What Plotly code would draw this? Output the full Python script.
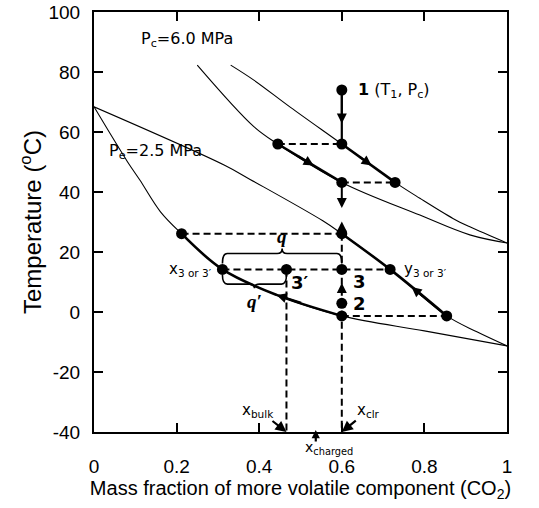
import plotly.graph_objects as go

# ---------------- data (mass fraction of CO2, temperature in deg C) ----------------
# condensing pressure Pc = 6.0 MPa
pc_bubble_x = [0.250, 0.387, 0.445, 0.600, 0.789, 0.910, 1.000]
pc_bubble_T = [82.3, 61.8, 56.0, 43.2, 32.3, 25.7, 23.0]
pc_dew_x = [0.331, 0.387, 0.475, 0.600, 0.729, 0.789, 0.869, 0.910, 1.000]
pc_dew_T = [82.3, 77.3, 68.3, 56.0, 43.2, 37.9, 31.2, 28.4, 23.0]
# evaporating pressure Pe = 2.5 MPa
pe_bubble_x = [0.000, 0.081, 0.111, 0.161, 0.212, 0.311, 0.442, 0.600, 0.800, 1.000]
pe_bubble_T = [68.4, 50.1, 44.0, 33.4, 26.1, 14.2, 5.7, -1.3, -6.3, -11.3]
pe_dew_x = [0.000, 0.315, 0.378, 0.554, 0.600, 0.717, 0.854, 0.927, 1.000]
pe_dew_T = [68.4, 49.0, 44.2, 30.4, 26.1, 14.2, -1.3, -6.6, -11.3]

# compositions
x_clr = 0.600
x_bulk = 0.466
x_charged = 0.537
x_liq_c = 0.445   # liquid in equilibrium with x_clr at Pc
y_vap_c = 0.729   # vapour in equilibrium with x_clr at Pc
x_liq_e = 0.212
x_3 = 0.311
y_3 = 0.717
y_vap_e = 0.854
# temperatures
T_1 = 74.0
T_c_dew = 56.0
T_c_bub = 43.2
T_e_dew = 26.1
T_3 = 14.2
T_2 = 2.9
T_e_bub = -1.3

state_x = [x_clr, x_liq_c, x_clr, x_clr, y_vap_c, x_liq_e, x_clr, x_3, x_bulk, x_clr, y_3, x_clr, x_clr, y_vap_e]
state_T = [T_1, T_c_dew, T_c_dew, T_c_bub, T_c_bub, T_e_dew, T_e_dew, T_3, T_3, T_3, T_3, T_2, T_e_bub, T_e_bub]

x_tick_vals = [0, 0.2, 0.4, 0.6, 0.8, 1]
x_tick_text = ["0", "0.2", "0.4", "0.6", "0.8", "1"]
y_tick_vals = [-40, -20, 0, 20, 40, 60, 80, 100]
y_tick_text = ["-40", "-20", "0", "20", "40", "60", "80", "100"]
T_min, T_max = -40, 100

# ---------------- styles ----------------
BLACK = "black"
THIN = 1.1
BOLD = 2.6
DASH = dict(color=BLACK, width=2.0, dash="7px,4px")
AX_FONT = "Liberation Sans, Arial, sans-serif"
IN_FONT = "DejaVu Sans, Verdana, sans-serif"

fig = go.Figure()


def curve(xs, ts, width):
    fig.add_trace(go.Scatter(x=xs, y=ts, mode="lines",
                             line=dict(color=BLACK, width=width, shape="spline"),
                             hoverinfo="skip"))


def sub(xs, ts, a, b):
    pts = [(x, t) for x, t in zip(xs, ts) if a - 1e-9 <= x <= b + 1e-9]
    return [p[0] for p in pts], [p[1] for p in pts]


# thin saturation curves
for xs, ts in [(pc_bubble_x, pc_bubble_T), (pc_dew_x, pc_dew_T),
               (pe_bubble_x, pe_bubble_T), (pe_dew_x, pe_dew_T)]:
    curve(xs, ts, THIN)

# bold process segments along the curves
curve(*sub(pc_bubble_x, pc_bubble_T, x_liq_c, x_clr), BOLD)
curve(*sub(pc_dew_x, pc_dew_T, x_clr, y_vap_c), BOLD)
curve(*sub(pe_bubble_x, pe_bubble_T, x_liq_e, x_clr), BOLD)
curve(*sub(pe_dew_x, pe_dew_T, x_clr, y_vap_e), BOLD)


def dashed(xs, ts):
    fig.add_trace(go.Scatter(x=xs, y=ts, mode="lines", line=DASH, hoverinfo="skip"))


# tie lines
dashed([x_liq_c, x_clr], [T_c_dew, T_c_dew])
dashed([x_clr, y_vap_c], [T_c_bub, T_c_bub])
dashed([x_liq_e, x_clr], [T_e_dew, T_e_dew])
dashed([x_3, y_3], [T_3, T_3])
dashed([x_clr, y_vap_e], [T_e_bub, T_e_bub])
# vertical composition lines
dashed([x_clr, x_clr], [T_e_dew, T_min])
dashed([x_bulk, x_bulk], [T_3, T_min])

# solid vertical from state 1
fig.add_trace(go.Scatter(x=[x_clr, x_clr], y=[T_1, T_c_dew], mode="lines",
                         line=dict(color=BLACK, width=2.2), hoverinfo="skip"))

# state points
fig.add_trace(go.Scatter(x=state_x, y=state_T, mode="markers",
                         marker=dict(color=BLACK, size=11), hoverinfo="skip"))

# ---------------- arrows ----------------
def arrow(x0, t0, x1, t1, width=2.0, size=1.0):
    fig.add_annotation(x=x1, y=t1, ax=x0, ay=t0, xref="x", yref="y", axref="x", ayref="y",
                       text="", showarrow=True, arrowhead=2, arrowsize=size,
                       arrowwidth=width, arrowcolor=BLACK, standoff=0, startstandoff=0)


def frac(a, b, f):
    return a + (b - a) * f


# 1 -> condenser dew point
arrow(x_clr, T_1, x_clr, frac(T_1, T_c_dew, 0.62), 2.0)
# along condensing curves
arrow(frac(x_clr, y_vap_c, 0.3), frac(T_c_dew, T_c_bub, 0.3),
      frac(x_clr, y_vap_c, 0.56), frac(T_c_dew, T_c_bub, 0.56), 2.0)
arrow(frac(x_liq_c, x_clr, 0.3), frac(T_c_dew, T_c_bub, 0.3),
      frac(x_liq_c, x_clr, 0.56), frac(T_c_dew, T_c_bub, 0.56), 2.0)
# vertical arrows facing each other between condenser and evaporator
arrow(x_clr, T_c_bub, x_clr, frac(T_c_bub, T_e_dew, 0.5), 2.0)
arrow(x_clr, T_e_dew, x_clr, frac(T_e_dew, T_c_bub, 0.24), 2.0)
# 2 -> 3
arrow(x_clr, frac(T_2, T_3, 0.45), x_clr, frac(T_2, T_3, 0.6), 2.0)
# along evaporating curves (pointing back up)
arrow(frac(y_3, y_vap_e, 0.6), frac(T_3, T_e_bub, 0.6),
      frac(y_3, y_vap_e, 0.38), frac(T_3, T_e_bub, 0.38), 2.0)
i_b = pe_bubble_x.index(0.442)
arrow(frac(pe_bubble_x[i_b], x_clr, 0.4), frac(pe_bubble_T[i_b], T_e_bub, 0.4),
      pe_bubble_x[i_b], pe_bubble_T[i_b], 2.0)

# ---------------- braces ----------------
def brace(x0, x1, t_end, t_flat, t_tip, r=0.012):
    xm = (x0 + x1) / 2
    p = (f"M {x0},{t_end} Q {x0},{t_flat} {x0 + r},{t_flat} L {xm - r},{t_flat} "
         f"Q {xm},{t_flat} {xm},{t_tip} Q {xm},{t_flat} {xm + r},{t_flat} "
         f"L {x1 - r},{t_flat} Q {x1},{t_flat} {x1},{t_end}")
    fig.add_shape(type="path", path=p, xref="x", yref="y",
                  line=dict(color=BLACK, width=1.6))


brace(x_3, x_clr, T_3 + 2.0, T_3 + 5.3, T_3 + 7.0)
brace(x_3, x_bulk, T_3 - 1.9, T_3 - 4.9, T_3 - 6.3)

# ---------------- labels ----------------
def label(x, t, text, size=15, anchor="left", bold=False, xshift=0, yshift=0,
          family=IN_FONT, style="normal"):
    fig.add_annotation(x=x, y=t, xref="x", yref="y", text=text, showarrow=False,
                       xanchor=anchor, yanchor="middle", xshift=xshift, yshift=yshift,
                       font=dict(family=family, size=size, color=BLACK,
                                 weight="bold" if bold else "normal", style=style))


label(0.109, 91, "P<sub>c</sub>=6.0 MPa", 16)
label(0.031, 53.6, "P<sub>e</sub>=2.5 MPa", 16)
label(x_clr, T_1, "<b>1</b> (T<sub>1</sub>, P<sub>c</sub>)", 16, xshift=14)
label(x_3, T_3, "x<sub>3 or 3′</sub>", 15, anchor="right", xshift=-8)
label(y_3, T_3, "y<sub>3 or 3′</sub>", 15, xshift=12)
label(x_bulk, T_3 - 4.4, "3′", 18, bold=True, xshift=3)
label(x_clr, T_3 - 4.1, "3", 18, bold=True, xshift=9)
label(x_clr, T_2 - 0.2, "2", 18, bold=True, xshift=9)
label((x_3 + x_clr) / 2, T_3 + 11.1, "q", 19, anchor="center", bold=True,
      family="Liberation Serif, serif", style="italic")
label((x_3 + x_bulk) / 2, T_3 - 10.8, "q′", 19, anchor="center", bold=True,
      family="Liberation Serif, serif", style="italic")

# composition labels on the bottom axis
fig.add_annotation(x=x_bulk, y=T_min, xref="x", yref="y", ax=-28, ay=-22,
                   text="x<sub>bulk</sub>", showarrow=True, arrowhead=2, arrowsize=1,
                   arrowwidth=2.2, arrowcolor=BLACK, standoff=0,
                   font=dict(family=IN_FONT, size=15, color=BLACK))
fig.add_annotation(x=x_clr, y=T_min, xref="x", yref="y", ax=27, ay=-22,
                   text="x<sub>clr</sub>", showarrow=True, arrowhead=2, arrowsize=1,
                   arrowwidth=2.2, arrowcolor=BLACK, standoff=0,
                   font=dict(family=IN_FONT, size=15, color=BLACK))
fig.add_annotation(x=x_charged, y=T_min, xref="x", yref="y", ax=0, ay=13, yshift=2,
                   text="", showarrow=True, arrowhead=2, arrowsize=0.75,
                   arrowwidth=2.2, arrowcolor=BLACK, standoff=0)
fig.add_annotation(x=x_charged, y=T_min, xref="x", yref="y", text="x<sub>charged</sub>",
                   showarrow=False, xanchor="left", yanchor="top", xshift=-13, yshift=-5,
                   font=dict(family=IN_FONT, size=14, color=BLACK))

# ---------------- layout ----------------
fig.update_layout(width=539, height=508, margin=dict(l=94, r=32, t=12, b=76),
                  plot_bgcolor="white", paper_bgcolor="white", showlegend=False)
fig.update_xaxes(range=[0, 1], tickvals=x_tick_vals, ticktext=x_tick_text,
                 ticks="inside", ticklen=9, tickwidth=1.5, tickcolor=BLACK,
                 showline=True, linewidth=2, linecolor=BLACK, mirror="allticks",
                 showgrid=False, zeroline=False, ticklabelstandoff=16, automargin=False,
                 tickfont=dict(family=AX_FONT, size=19, color=BLACK),
                 title=dict(text="Mass fraction of more volatile component (CO<sub>2</sub>)",
                            font=dict(family=AX_FONT, size=20, color=BLACK), standoff=2))
fig.update_yaxes(range=[T_min, T_max], tickvals=y_tick_vals, ticktext=y_tick_text,
                 ticks="inside", ticklen=9, tickwidth=1.5, tickcolor=BLACK,
                 showline=True, linewidth=2, linecolor=BLACK, mirror="allticks",
                 showgrid=False, zeroline=False, ticklabelstandoff=8, automargin=False,
                 tickfont=dict(family=AX_FONT, size=19, color=BLACK),
                 title=dict(text="Temperature (<sup>o</sup>C)",
                            font=dict(family=AX_FONT, size=24, color=BLACK), standoff=0))

# remove the browser's default page margin so the figure fills the window exactly
fig.write_html("out.html", config={"displayModeBar": False},
               post_script="document.body.style.margin='0';")
